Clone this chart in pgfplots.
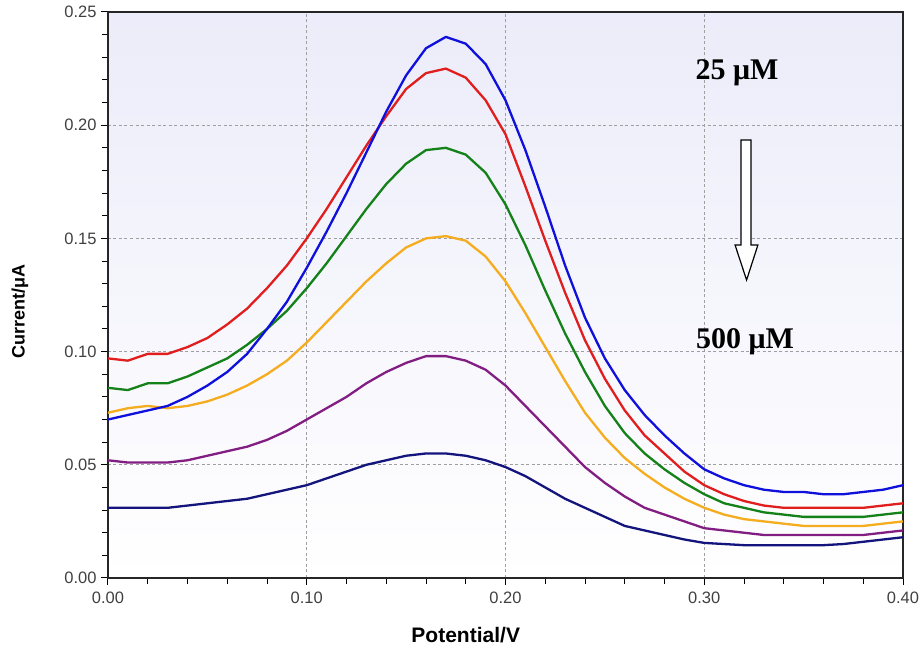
\documentclass[border=0pt]{standalone}
\usepackage{fontspec}
\setmainfont{Liberation Sans}
\newfontfamily\tnr{Liberation Serif}
\usepackage{pgfplots}
\pgfplotsset{compat=1.18}
\usepackage{pgfplotstable}

\definecolor{cBlue}{RGB}{16,16,220}
\definecolor{cRed}{RGB}{225,30,30}
\definecolor{cGreen}{RGB}{20,130,25}
\definecolor{cOrange}{RGB}{245,172,30}
\definecolor{cPurple}{RGB}{130,30,130}
\definecolor{cNavy}{RGB}{20,20,125}
\definecolor{bgTop}{RGB}{236,236,250}

% x, then the six voltammograms from 25 uM (b) down to 500 uM (n)
\pgfplotstableread{
x    b     r     g     o     p     n
0.00 0.070 0.097 0.084 0.073 0.052 0.031
0.01 0.072 0.096 0.083 0.075 0.051 0.031
0.02 0.074 0.099 0.086 0.076 0.051 0.031
0.03 0.076 0.099 0.086 0.075 0.051 0.031
0.04 0.080 0.102 0.089 0.076 0.052 0.032
0.05 0.085 0.106 0.093 0.078 0.054 0.033
0.06 0.091 0.112 0.097 0.081 0.056 0.034
0.07 0.099 0.119 0.103 0.085 0.058 0.035
0.08 0.110 0.128 0.110 0.090 0.061 0.037
0.09 0.122 0.138 0.118 0.096 0.065 0.039
0.10 0.137 0.150 0.128 0.104 0.070 0.041
0.11 0.153 0.163 0.139 0.113 0.075 0.044
0.12 0.170 0.177 0.151 0.122 0.080 0.047
0.13 0.188 0.191 0.163 0.131 0.086 0.050
0.14 0.206 0.204 0.174 0.139 0.091 0.052
0.15 0.222 0.216 0.183 0.146 0.095 0.054
0.16 0.234 0.223 0.189 0.150 0.098 0.055
0.17 0.239 0.225 0.190 0.151 0.098 0.055
0.18 0.236 0.221 0.187 0.149 0.096 0.054
0.19 0.227 0.211 0.179 0.142 0.092 0.052
0.20 0.211 0.196 0.165 0.131 0.085 0.049
0.21 0.189 0.173 0.147 0.117 0.076 0.045
0.22 0.164 0.149 0.127 0.102 0.067 0.040
0.23 0.138 0.126 0.108 0.087 0.058 0.035
0.24 0.115 0.105 0.091 0.073 0.049 0.031
0.25 0.097 0.088 0.076 0.062 0.042 0.027
0.26 0.083 0.074 0.064 0.053 0.036 0.023
0.27 0.072 0.063 0.055 0.046 0.031 0.021
0.28 0.063 0.055 0.048 0.040 0.028 0.019
0.29 0.055 0.047 0.042 0.035 0.025 0.017
0.30 0.048 0.041 0.037 0.031 0.022 0.0155
0.31 0.044 0.037 0.033 0.028 0.021 0.015
0.32 0.041 0.034 0.031 0.026 0.020 0.0145
0.33 0.039 0.032 0.029 0.025 0.019 0.0145
0.34 0.038 0.031 0.028 0.024 0.019 0.0145
0.35 0.038 0.031 0.027 0.023 0.019 0.0145
0.36 0.037 0.031 0.027 0.023 0.019 0.0145
0.37 0.037 0.031 0.027 0.023 0.019 0.015
0.38 0.038 0.031 0.027 0.023 0.019 0.016
0.39 0.039 0.032 0.028 0.024 0.020 0.017
0.40 0.041 0.033 0.029 0.025 0.021 0.018
}\cvdata

\begin{document}
\begin{tikzpicture}
\begin{axis}[
  scale only axis,
  width=795pt, height=566pt,
  xmin=0, xmax=0.4, ymin=0, ymax=0.25,
  xtick={0,0.1,0.2,0.3,0.4},
  ytick={0,0.05,0.1,0.15,0.2,0.25},
  minor x tick num=4,
  minor y tick num=4,
  tick pos=left,
  tick align=outside,
  major tick length=7pt,
  minor tick length=6pt,
  every tick/.style={black, line width=1pt},
  axis line style={black!85, line width=1.4pt},
  grid=major,
  major grid style={gray!75, dash pattern=on 3pt off 2.5pt, line width=0.8pt},
  axis background/.style={shade, top color=bgTop, bottom color=white},
  /pgf/number format/.cd, fixed, fixed zerofill, precision=2, assume math mode=true,
  /pgfplots/.cd,
  ticklabel style={font=\fontsize{16.5}{16.5}\selectfont, text=black!75},
  xticklabel style={yshift=-3pt},
  yticklabel style={xshift=-1pt},
  xlabel={Potential/V},
  ylabel={Current/μA},
  xlabel style={font=\fontsize{21}{21}\selectfont\bfseries, at={(rel axis cs:0.45,0)}, anchor=center, yshift=-57pt},
  ylabel style={font=\fontsize{18}{18}\selectfont\bfseries, at={(rel axis cs:0,0.47)}, anchor=center, yshift=88pt},
  every axis plot/.append style={line width=2.3pt, line join=round, no markers},
  clip=true,
]
\addplot[cNavy]   table[x=x, y=n] {\cvdata};
\addplot[cPurple] table[x=x, y=p] {\cvdata};
\addplot[cOrange] table[x=x, y=o] {\cvdata};
\addplot[cGreen]  table[x=x, y=g] {\cvdata};
\addplot[cRed]    table[x=x, y=r] {\cvdata};
\addplot[cBlue]   table[x=x, y=b] {\cvdata};

\node[font=\fontsize{30}{30}\selectfont\tnr\bfseries] at (axis cs:0.3165,0.223) {25 μM};
\node[font=\fontsize{30}{30}\selectfont\tnr\bfseries] at (axis cs:0.3205,0.1042) {500 μM};
\draw[black, line width=1.2pt, fill=white]
  (axis cs:0.3185,0.1935) -- (axis cs:0.3235,0.1935) -- (axis cs:0.3235,0.1471)
  -- (axis cs:0.327,0.1471) -- (axis cs:0.3213,0.1316) -- (axis cs:0.3155,0.1471)
  -- (axis cs:0.3185,0.1471) -- cycle;
\end{axis}
\path (current axis.south west) ++(-108pt,-77pt) rectangle ++(923pt,655pt);
\end{tikzpicture}
\end{document}
